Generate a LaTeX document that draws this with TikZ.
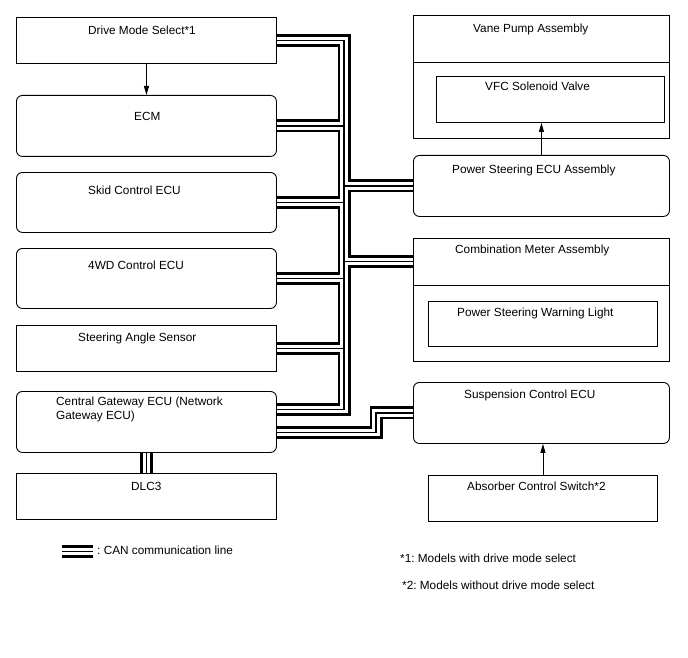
\documentclass[tikz,border=0pt]{standalone}
\usepackage{fontspec}
\setmainfont{Liberation Sans}
\usetikzlibrary{calc,arrows.meta}

\tikzset{
  sqbox/.style 2 args={draw, line width=0.9pt, rectangle, anchor=north west, inner sep=0pt, minimum width=#1, minimum height=#2},
  rdbox/.style 2 args={sqbox={#1}{#2}, rounded corners=6pt},
  lbl/.style={anchor=base west, inner sep=0pt, font=\fontsize{11.8pt}{14pt}\selectfont\frenchspacing},
  can/.style={line width=13pt, draw=black, postaction={draw=white, line width=7.4pt}, postaction={draw=black, line width=1.8pt}},
  sig/.style={draw, line width=0.9pt, -{Triangle[length=9pt,width=5pt]}},
}

\begin{document}
\begin{tikzpicture}[x=1pt, y=-1pt]
        \useasboundingbox (0,0) rectangle (688,658);
        % left column
        \node[sqbox={260pt}{46pt}] (dms) at (16,17) {};
        \node[rdbox={260pt}{61pt}] (ecm) at (16,95) {};
        \node[rdbox={260pt}{60pt}] (skid) at (16,172) {};
        \node[rdbox={260pt}{60pt}] (fwd) at (16,248) {};
        \node[sqbox={260pt}{46pt}] (sas) at (16,325) {};
        \node[rdbox={260pt}{61pt}] (gw) at (16,391) {};
        \node[sqbox={260pt}{46pt}] (dlc) at (16,473) {};
        \node[lbl] (dmstxt) at (88,35) {Drive Mode Select*1};
        \node[lbl] (ecmtxt) at (134,121) {ECM};
        \node[lbl] (skidtxt) at (88,194) {Skid Control ECU};
        \node[lbl] (fwdtxt) at (88,269) {4WD Control ECU};
        \node[lbl] (sastxt) at (78,341) {Steering Angle Sensor};
        \node[lbl] (gwtxta) at (56,405) {Central Gateway ECU (Network};
        \node[lbl] (gwtxtb) at (56,419) {Gateway ECU)};
        \node[lbl] (dlctxt) at (131,490) {DLC3};
        % right column
        \node[sqbox={256pt}{123pt}] (vane) at (413,15) {};
        \node[sqbox={228pt}{46pt}] (vfc) at (436,76) {};
        \node[rdbox={256pt}{61pt}] (ps) at (413,155) {};
        \node[sqbox={256pt}{123pt}] (cm) at (413,238) {};
        \node[sqbox={229pt}{45pt}] (pswl) at (428,301) {};
        \node[rdbox={256pt}{61pt}] (susp) at (413,382) {};
        \node[sqbox={229pt}{46pt}] (abs) at (428,475) {};
        \path[draw, line width=0.9pt] ($(vane.north west)+(0,47)$) -- ($(vane.north east)+(0,47)$);
        \path[draw, line width=0.9pt] ($(cm.north west)+(0,47)$) -- ($(cm.north east)+(0,47)$);
        \node[lbl] (vanetxt) at (473,33) {Vane Pump Assembly};
        \node[lbl] (vfctxt) at (485,91) {VFC Solenoid Valve};
        \node[lbl] (pstxt) at (452,174) {Power Steering ECU Assembly};
        \node[lbl] (cmtxt) at (455,253) {Combination Meter Assembly};
        \node[lbl] (pswltxt) at (457,316) {Power Steering Warning Light};
        \node[lbl] (susptxt) at (464,398) {Suspension Control ECU};
        \node[lbl] (abstxt) at (467,490) {Absorber Control Switch*2};
        % signal lines
        \path[sig] (dms.south) -- (ecm.north);
        \path[sig] (ps.north) -- (ps.north |- vfc.south);
        \path[sig] (abs.north) -- (abs.north |- susp.south);
        % CAN bus
        \coordinate (busx) at (344,0);
        \coordinate (gwa) at ($(gw.east)+(0,-12.5)$);
        \coordinate (gwb) at ($(gw.east)+(0,10.5)$);
        \coordinate (cmtop) at ($(cm.north west)+(0,23.5)$);
        \draw[can] (dms.east) -| (busx |- gwa) -- (gwa)
            (ecm.east) -- (ecm.east -| busx)
            (skid.east) -- (skid.east -| busx)
            (fwd.east) -- (fwd.east -| busx)
            (sas.east) -- (sas.east -| busx)
            (ps.west) -- (ps.west -| busx)
            (cmtop) -- (cmtop -| busx);
        \draw[can] (gwb) -| ($(susp.west)+(-37,0)$) -- (susp.west);
        \draw[can] (gw.south) -- (dlc.north);
        % legend and notes
        \coordinate (lga) at (62,551.5);
        \coordinate (lgb) at (93,551.5);
        \draw[can] (lga) -- (lgb);
        \node[lbl] (lgtxt) at (97,554) {: CAN communication line};
        \node[lbl] (notea) at (400,562) {*1: Models with drive mode select};
        \node[lbl] (noteb) at (402,589) {*2: Models without drive mode select};
\end{tikzpicture}
\end{document}
